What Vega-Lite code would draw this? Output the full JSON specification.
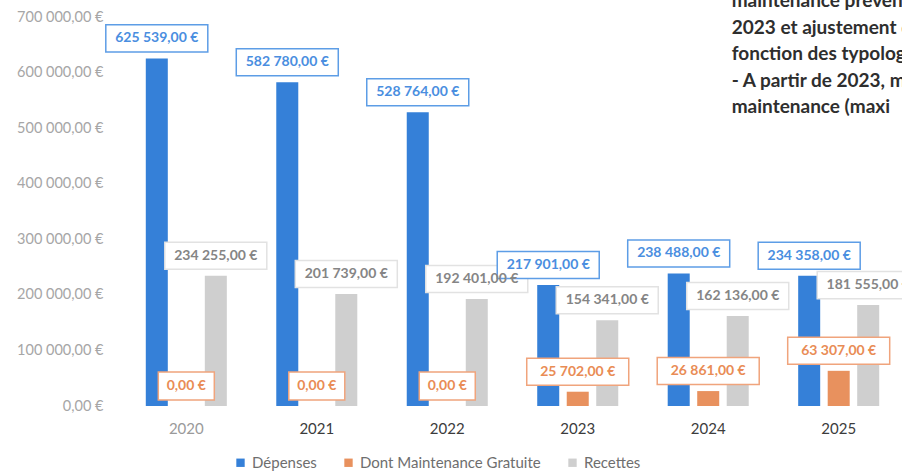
{
  "$schema": "https://vega.github.io/schema/vega-lite/v6.json",
  "width": 783,
  "height": 389,
  "autosize": {"type": "none"},
  "padding": {"left": 121, "top": 17, "right": 0, "bottom": 66},
  "config": {
    "locale": {"number": {"decimal": ",", "thousands": " ", "grouping": [3], "currency": ["", " €"]}},
    "view": {"stroke": null},
    "font": "Lato"
  },
  "layer": [
    {
      "data": {
        "values": [
          {"year": "2020", "serie": "Dépenses", "value": 625539},
          {"year": "2020", "serie": "Dont Maintenance Gratuite", "value": 0},
          {"year": "2020", "serie": "Recettes", "value": 234255},
          {"year": "2021", "serie": "Dépenses", "value": 582780},
          {"year": "2021", "serie": "Dont Maintenance Gratuite", "value": 0},
          {"year": "2021", "serie": "Recettes", "value": 201739},
          {"year": "2022", "serie": "Dépenses", "value": 528764},
          {"year": "2022", "serie": "Dont Maintenance Gratuite", "value": 0},
          {"year": "2022", "serie": "Recettes", "value": 192401},
          {"year": "2023", "serie": "Dépenses", "value": 217901},
          {"year": "2023", "serie": "Dont Maintenance Gratuite", "value": 25702},
          {"year": "2023", "serie": "Recettes", "value": 154341},
          {"year": "2024", "serie": "Dépenses", "value": 238488},
          {"year": "2024", "serie": "Dont Maintenance Gratuite", "value": 26861},
          {"year": "2024", "serie": "Recettes", "value": 162136},
          {"year": "2025", "serie": "Dépenses", "value": 234358},
          {"year": "2025", "serie": "Dont Maintenance Gratuite", "value": 63307},
          {"year": "2025", "serie": "Recettes", "value": 181555}
        ]
      },
      "encoding": {
        "x": {
          "field": "year", "type": "nominal", "title": null,
          "scale": {"paddingInner": 0.379, "paddingOuter": 0.19},
          "axis": {
            "labelAngle": 0, "labelFontSize": 15, "labelPadding": 15, "ticks": false, "domain": false, "grid": false,
            "labelColor": {"condition": {"test": "datum.value === '2020'", "value": "#9a9a9a"}, "value": "#3c3c3c"}
          }
        },
        "xOffset": {
          "field": "serie", "type": "nominal",
          "sort": ["Dépenses", "Dont Maintenance Gratuite", "Recettes"],
          "scale": {"paddingInner": 0.254, "paddingOuter": 0}
        },
        "y": {
          "field": "value", "type": "quantitative", "title": null,
          "scale": {"domain": [0, 700000], "nice": false},
          "axis": {
            "values": [0, 100000, 200000, 300000, 400000, 500000, 600000, 700000],
            "format": "$,.2f", "labelFontSize": 14.5, "labelColor": "#a6a6a6", "labelPadding": 18,
            "ticks": false, "domain": false, "grid": false
          }
        }
      },
      "layer": [
        {
          "mark": {"type": "bar"},
          "encoding": {
            "color": {
              "field": "serie", "type": "nominal",
              "sort": ["Dépenses", "Dont Maintenance Gratuite", "Recettes"],
              "scale": {"domain": ["Dépenses", "Dont Maintenance Gratuite", "Recettes"], "range": ["#3580d8", "#e8915e", "#cfcfcf"]},
              "legend": {
                "orient": "none", "legendX": 112, "legendY": 438, "direction": "horizontal", "title": null,
                "symbolType": "square", "symbolSize": 70, "symbolStrokeWidth": 0, "labelLimit": 400,
                "labelFontSize": 15, "labelColor": "#6e6e6e", "columnPadding": 24, "labelOffset": 4
              }
            }
          }
        },
        {
          "mark": {"type": "point", "filled": false, "fill": "white", "fillOpacity": 1, "strokeWidth": 1.5, "opacity": 1},
          "encoding": {
            "shape": {
              "condition": {"test": "datum.value == 0", "value": "M-1,-1.214H1V-0.214H-1Z"},
              "value": "M-1,-0.657H1V-0.127H-1Z"
            },
            "size": {
              "condition": {"test": "datum.value == 0", "value": 3136},
              "value": 10404
            },
            "stroke": {
              "field": "serie", "type": "nominal", "legend": null,
              "scale": {"domain": ["Dépenses", "Dont Maintenance Gratuite", "Recettes"], "range": ["#5d9de6", "#f0a47c", "#e2e2e2"]}
            }
          }
        },
        {
          "mark": {"type": "text", "baseline": "middle", "align": "center", "dy": -20, "fontSize": 14, "fontWeight": "bold"},
          "encoding": {
            "text": {"field": "value", "type": "quantitative", "format": "$,.2f"},
            "fill": {
              "field": "serie", "type": "nominal", "legend": null,
              "scale": {"domain": ["Dépenses", "Dont Maintenance Gratuite", "Recettes"], "range": ["#4a8ee0", "#e98c55", "#858585"]}
            }
          }
        }
      ]
    },
    {
      "data": {
        "values": [
          {"note": "maintenance préventive dès\n2023 et ajustement des coûts en\nfonction des typologies\n- A partir de 2023, mise en place\nmaintenance (maxi"}
        ]
      },
      "mark": {"type": "text", "align": "left", "baseline": "alphabetic", "lineBreak": "\n", "lineHeight": 26.5, "fontSize": 19, "fontWeight": "bold", "color": "#2e2e2e", "dx": -107},
      "encoding": {
        "text": {"field": "note", "type": "nominal"},
        "x": {"datum": "2025", "type": "nominal", "title": null},
        "y": {"datum": 717100, "type": "quantitative", "title": null}
      }
    }
  ]
}
